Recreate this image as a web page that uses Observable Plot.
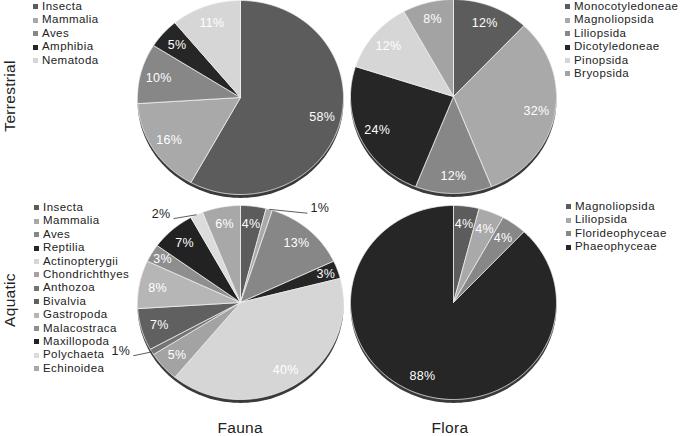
<!DOCTYPE html>
<html>
<head>
<meta charset="utf-8">
<script src="https://cdn.jsdelivr.net/npm/d3@7"></script>
<script src="https://cdn.jsdelivr.net/npm/@observablehq/plot@0.6"></script>
<style>
  body { margin: 0; background: #fff; font-family: "Liberation Sans", Arial, sans-serif; }
  #fig { position: relative; width: 685px; height: 436px; overflow: hidden; background: #fff; }
  .pie { position: absolute; }
  .legend { position: absolute; font-size: 11.5px; letter-spacing: 0.45px; line-height: 13.4px; color: #222; }
  .legend .item { position: relative; padding-left: 9px; white-space: nowrap; height: 13.4px; }
  .legend .sw { position: absolute; left: 0; top: 4.4px; width: 5px; height: 5px; }
  .lab { position: absolute; font-size: 15.5px; letter-spacing: 0.3px; color: #222; white-space: nowrap; }
</style>
</head>
<body>
<div id="fig"></div>
<script>
// ---- data ----
const terrFaunaTaxa = ["Insecta", "Mammalia", "Aves", "Amphibia", "Nematoda"];
const terrFaunaPct  = [58, 16, 10, 5, 11];

const terrFloraTaxa = ["Monocotyledoneae", "Magnoliopsida", "Liliopsida", "Dicotyledoneae", "Pinopsida", "Bryopsida"];
const terrFloraPct  = [12, 32, 12, 24, 12, 8];

const aquaFaunaTaxa = ["Insecta", "Mammalia", "Aves", "Reptilia", "Actinopterygii", "Chondrichthyes", "Anthozoa",
                       "Bivalvia", "Gastropoda", "Malacostraca", "Maxillopoda", "Polychaeta", "Echinoidea"];
const aquaFaunaPct  = [4, 1, 13, 3, 40, 5, 1, 7, 8, 3, 7, 2, 6];

const aquaFloraTaxa = ["Magnoliopsida", "Liliopsida", "Florideophyceae", "Phaeophyceae"];
const aquaFloraPct  = [4, 4, 4, 88];

const rowLabels = ["Terrestrial", "Aquatic"];
const colLabels = ["Fauna", "Flora"];

// ---- style ----
const palette = ["#5c5c5c", "#a9a9a9", "#878787", "#262626", "#d6d6d6", "#a3a3a3", "#747474",
                 "#606060", "#b6b6b6", "#8e8e8e", "#222222", "#dcdcdc", "#a8a8a8"];

const fig = document.getElementById("fig");

function piePlot(taxa, pct, cx, cy) {
  const W = 280, H = 226, RX = 103, RY = 97;
  const arcs = d3.pie().sort(null).value(d => d)(pct);
  const slicePts = [];
  arcs.forEach((a, i) => {
    const c = palette[i];
    slicePts.push({k: i, x: 0, y: 0, c});
    const n = Math.max(2, Math.ceil((a.endAngle - a.startAngle) / 0.01));
    for (let j = 0; j <= n; j++) {
      const t = a.startAngle + (a.endAngle - a.startAngle) * j / n;
      slicePts.push({k: i, x: Math.sin(t), y: -Math.cos(t), c});
    }
    slicePts.push({k: i, x: 0, y: 0, c});
  });
  const shadow = d3.range(0, 361, 2).map(d => {
    const t = d * Math.PI / 180;
    return {x: Math.sin(t), y: -Math.cos(t) + 0.035};
  });
  const inside = [], outside = [], leaders = [];
  arcs.forEach((a, i) => {
    const m = (a.startAngle + a.endAngle) / 2;
    const s = Math.sin(m), c = -Math.cos(m);
    const label = pct[i] + "%";
    if (pct[i] >= 3) {
      const r = pct[i] <= 3 ? 0.88 : 0.82;
      inside.push({x: s * r, y: c * r, t: label});
    } else {
      const sg = s < 0 ? -1 : 1;
      const lx = sg * Math.max(Math.abs(s) + 0.3, 0.77), ly = c - 0.01;
      outside.push({x: lx, y: ly, t: label});
      leaders.push({x1: s, y1: c, x2: lx - sg * 0.12, y2: ly + 0.05});
    }
  });

  const plot = Plot.plot({
    width: W, height: H,
    margin: 0,
    x: {domain: [-W / 2 / RX, W / 2 / RX], axis: null},
    y: {domain: [-H / 2 / RY, H / 2 / RY], range: [0, H], axis: null},
    color: {type: "identity"},
    style: {background: "transparent", overflow: "visible", fontFamily: "Liberation Sans, Arial, sans-serif", fontSize: "12.5px", letterSpacing: "0.3px"},
    marks: [
      Plot.line(shadow, {x: "x", y: "y", fill: "#3a3a3a", stroke: "none"}),
      Plot.line(slicePts, {x: "x", y: "y", z: "k", fill: "c", stroke: "#f2f2f2", strokeWidth: 0.8, strokeLinejoin: "round"}),
      Plot.text(inside, {x: "x", y: "y", text: "t", fill: "white", fontSize: 12.5}),
      Plot.link(leaders, {x1: "x1", y1: "y1", x2: "x2", y2: "y2", stroke: "#333", strokeWidth: 0.8}),
      Plot.text(outside, {x: "x", y: "y", text: "t", fill: "#222", fontSize: 12.5})
    ]
  });
  plot.classList.add("pie");
  plot.style.position = "absolute";
  plot.style.left = (cx - W / 2) + "px";
  plot.style.top = (cy - H / 2) + "px";
  fig.appendChild(plot);
}

function legend(taxa, left, top) {
  const div = document.createElement("div");
  div.className = "legend";
  div.style.left = left + "px";
  div.style.top = top + "px";
  taxa.forEach((t, i) => {
    const it = document.createElement("div");
    it.className = "item";
    const sw = document.createElement("span");
    sw.className = "sw";
    sw.style.background = palette[i];
    it.appendChild(sw);
    it.appendChild(document.createTextNode(t));
    div.appendChild(it);
  });
  fig.appendChild(div);
}

function label(text, x, y, rotate) {
  const d = document.createElement("div");
  d.className = "lab";
  d.textContent = text;
  fig.appendChild(d);
  const w = d.offsetWidth, h = d.offsetHeight;
  d.style.left = (x - w / 2) + "px";
  d.style.top = (y - h / 2) + "px";
  if (rotate) d.style.transform = "rotate(-90deg)";
}

piePlot(terrFaunaTaxa, terrFaunaPct, 240, 97);
piePlot(terrFloraTaxa, terrFloraPct, 453, 96);
piePlot(aquaFaunaTaxa, aquaFaunaPct, 240, 302);
piePlot(aquaFloraTaxa, aquaFloraPct, 453, 302);

legend(terrFaunaTaxa, 33, 0);
legend(terrFloraTaxa, 565, 0);
legend(aquaFaunaTaxa, 34, 201);
legend(aquaFloraTaxa, 566, 200);

label(rowLabels[0], 9, 96, true);
label(rowLabels[1], 10, 300, true);
label(colLabels[0], 240, 428, false);
label(colLabels[1], 450, 428, false);
</script>
</body>
</html>
